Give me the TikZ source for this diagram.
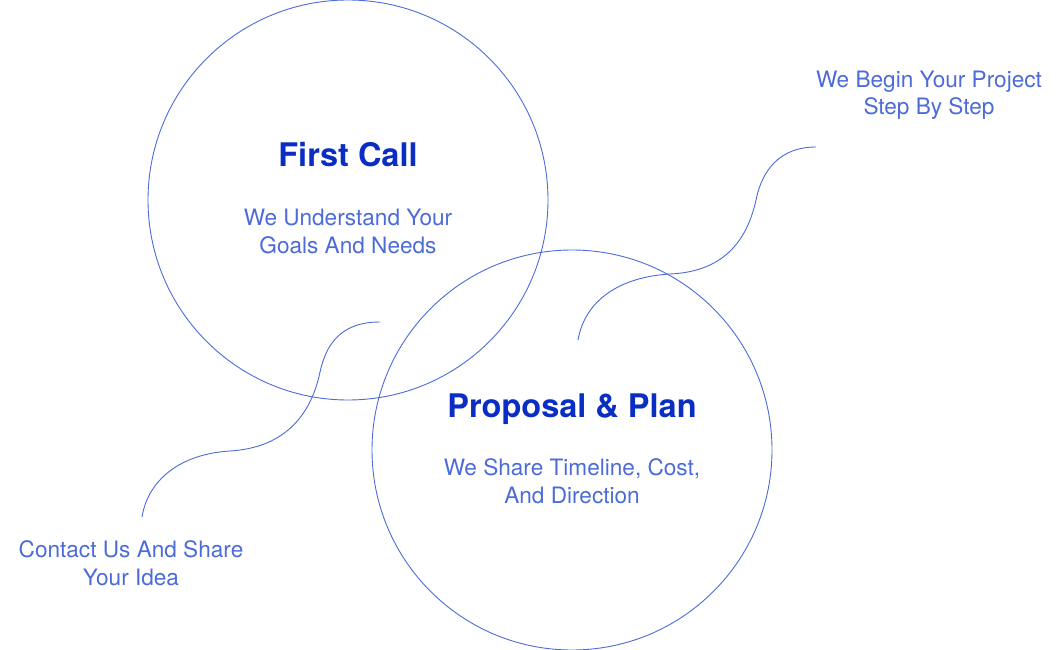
\documentclass[tikz,border=0pt]{standalone}
\usepackage{fontspec}
\setmainfont{TeX Gyre Heros}
\definecolor{headblue}{HTML}{0A2EC4}
\definecolor{lineblue}{HTML}{4C6BD9}
\begin{document}
\begin{tikzpicture}[x=1pt,y=-1pt,
  ring/.style={circle,draw=lineblue,line width=0.9pt,minimum size=400pt,inner sep=0pt},
  link/.style={draw=lineblue,line width=0.9pt},
  head/.style={text=headblue,font=\fontsize{32.5}{38}\bfseries\selectfont,anchor=base,inner sep=0pt},
  sub/.style={text=lineblue,font=\fontsize{22.6}{28}\selectfont,align=center,anchor=base,inner sep=0pt}]
\useasboundingbox (0,0) rectangle (1060,650);
\node[ring] (c1) at (348,200) {};
\node[ring] (c2) at (572,450) {};
\node[head] (h1) at (348,167) {First Call};
\node[sub] (s1) at (348,253) {We Understand Your\\Goals And Needs};
\node[head] (h2) at (572,417) {Proposal \& Plan};
\node[sub] (s2) at (572,503) {We Share Timeline, Cost,\\And Direction};
\node[sub] (t1) at (929,115) {We Begin Your Project\\Step By Step};
\node[sub] (t2) at (131,585) {Contact Us And Share\\Your Idea};
\coordinate (a1) at (380,322);
\coordinate (a2) at (142,517);
\coordinate (b1) at (816,147);
\coordinate (b2) at (578,340);
\draw[link] (a1) .. controls (340,322) and (326,345) .. (320,372)
  .. controls (310,420) and (280,448) .. (230,451)
  .. controls (180,454) and (148,480) .. (a2);
\draw[link] (b1) .. controls (780,147) and (762,170) .. (756,200)
  .. controls (745,250) and (715,272) .. (670,274)
  .. controls (620,277) and (585,300) .. (b2);
\end{tikzpicture}
\end{document}
